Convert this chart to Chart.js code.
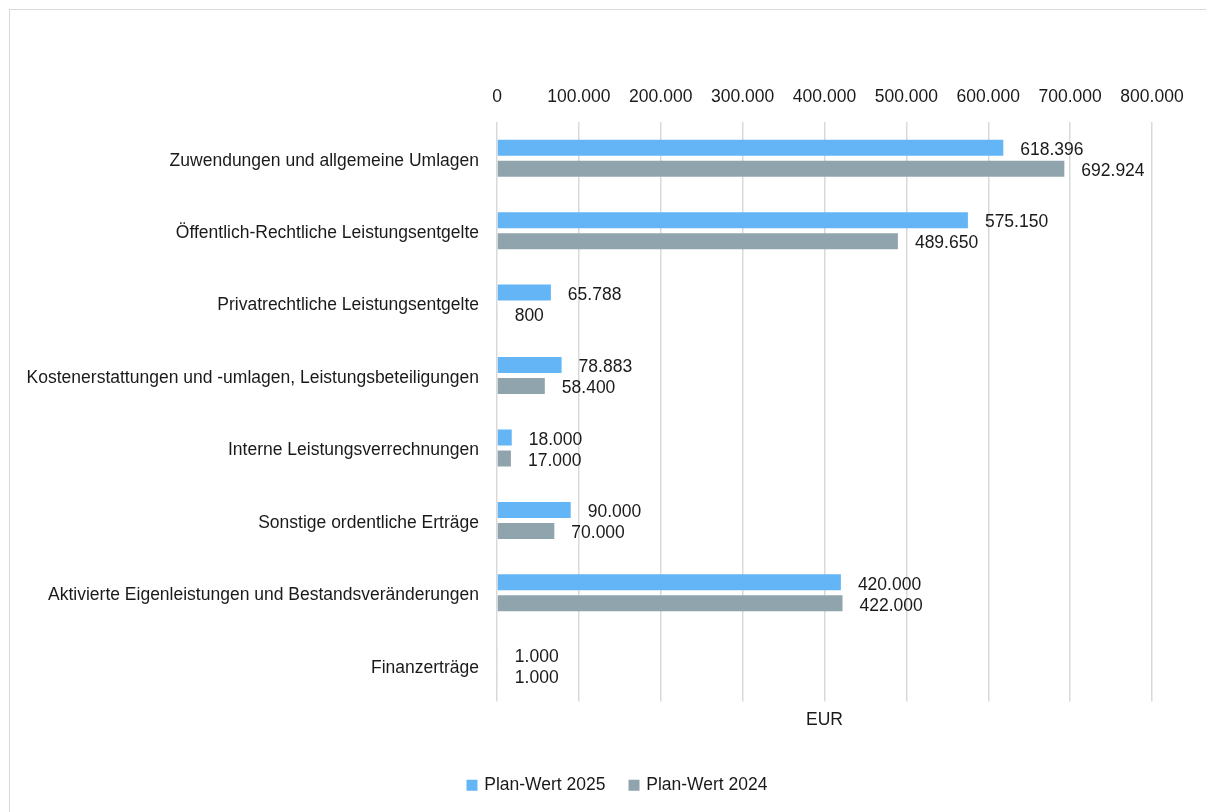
<!DOCTYPE html>
<html lang="de">
<head>
<meta charset="utf-8">
<title>Plan-Werte Erträge</title>
<script src="https://cdn.jsdelivr.net/npm/chart.js@4/dist/chart.umd.min.js"></script>
<style>
  html, body { margin: 0; padding: 0; background: #ffffff; overflow: hidden; }
  #frame {
    position: absolute; left: 9px; top: 9px; width: 1400px; height: 1000px;
    border: 1.5px solid #d9d9d9; box-sizing: border-box;
  }
  #wrap { position: absolute; left: 0; top: 0; width: 1206px; height: 812px; }
</style>
</head>
<body>
<div id="frame"></div>
<div id="wrap"><canvas id="chart" width="1206" height="812"></canvas></div>
<script>
// Ertragsarten (Kategorien)
const categories = [
  'Zuwendungen und allgemeine Umlagen',
  'Öffentlich-Rechtliche Leistungsentgelte',
  'Privatrechtliche Leistungsentgelte',
  'Kostenerstattungen und -umlagen, Leistungsbeteiligungen',
  'Interne Leistungsverrechnungen',
  'Sonstige ordentliche Erträge',
  'Aktivierte Eigenleistungen und Bestandsveränderungen',
  'Finanzerträge'
];
// Plan-Werte in EUR
const plan2025 = [618396, 575150, 65788, 78883, 18000, 90000, 420000, 1000];
const plan2024 = [692924, 489650, 800, 58400, 17000, 70000, 422000, 1000];
// Achsenteilung
const axisTicks = [0, 100000, 200000, 300000, 400000, 500000, 600000, 700000, 800000];

const FONT = "'Liberation Sans', Arial, sans-serif";
const TEXT = '#1a1a1a';
const COLOR_2025 = '#64b5f6';
const COLOR_2024 = '#90a4ae';

function fmtDE(v) {
  return Math.round(v).toString().replace(/\B(?=(\d{3})+(?!\d))/g, '.');
}

// Wertbeschriftung rechts neben jedem Balken
const valueLabels = {
  id: 'valueLabels',
  afterDatasetsDraw(chart) {
    const ctx = chart.ctx;
    ctx.save();
    ctx.font = `17.5px ${FONT}`;
    ctx.fillStyle = TEXT;
    ctx.textAlign = 'left';
    ctx.textBaseline = 'middle';
    chart.data.datasets.forEach((ds, i) => {
      const meta = chart.getDatasetMeta(i);
      meta.data.forEach((bar, j) => {
        ctx.fillText(fmtDE(ds.data[j]), bar.x + 17, bar.y + 2.5);
      });
    });
    ctx.restore();
  }
};

// Legende etwas nach rechts versetzen
const legendShift = {
  id: 'legendShift',
  afterLayout(chart) {
    const lg = chart.legend;
    if (lg) { lg.left += 42; lg.right += 42; }
  }
};

new Chart(document.getElementById('chart'), {
  type: 'bar',
  data: {
    labels: categories,
    datasets: [
      {
        label: 'Plan-Wert 2025',
        data: plan2025,
        backgroundColor: COLOR_2025,
        categoryPercentage: 0.58,
        barPercentage: 0.76
      },
      {
        label: 'Plan-Wert 2024',
        data: plan2024,
        backgroundColor: COLOR_2024,
        categoryPercentage: 0.58,
        barPercentage: 0.76
      }
    ]
  },
  options: {
    indexAxis: 'y',
    responsive: false,
    animation: false,
    devicePixelRatio: 1,
    layout: { padding: { top: 73, right: 54, bottom: 8, left: 0 } },
    scales: {
      x: {
        position: 'top',
        min: axisTicks[0],
        max: axisTicks[axisTicks.length - 1],
        afterBuildTicks(scale) {
          scale.ticks = axisTicks.map(v => ({ value: v }));
        },
        ticks: {
          padding: 14,
          color: TEXT,
          font: { family: FONT, size: 17.5 },
          maxRotation: 0,
          callback: v => fmtDE(v)
        },
        grid: { color: '#d9d9d9', lineWidth: 1.5, drawTicks: false },
        border: { display: false }
      },
      xEur: {
        position: 'bottom',
        min: axisTicks[0],
        max: axisTicks[axisTicks.length - 1],
        ticks: { display: false },
        grid: { display: false, drawTicks: false },
        border: { display: false },
        title: {
          display: true,
          text: 'EUR',
          color: TEXT,
          font: { family: FONT, size: 17.5 },
          padding: { top: 8, bottom: 21 }
        }
      },
      y: {
        afterFit(scale) { scale.width = 497; },
        ticks: {
          padding: 18,
          labelOffset: 2.5,
          color: TEXT,
          font: { family: FONT, size: 17.5 }
        },
        grid: { display: false, drawTicks: false },
        border: { display: false }
      }
    },
    plugins: {
      legend: {
        position: 'bottom',
        labels: {
          color: TEXT,
          font: { family: FONT, size: 17.5 },
          boxWidth: 7,
          boxHeight: 7,
          padding: 25,
          generateLabels(chart) {
            return chart.data.datasets.map((ds, i) => ({
              text: ds.label,
              fillStyle: ds.backgroundColor,
              strokeStyle: ds.backgroundColor,
              lineWidth: 4,
              fontColor: TEXT,
              hidden: !chart.isDatasetVisible(i),
              datasetIndex: i
            }));
          }
        }
      },
      tooltip: { enabled: false }
    }
  },
  plugins: [valueLabels, legendShift]
});
</script>
</body>
</html>
